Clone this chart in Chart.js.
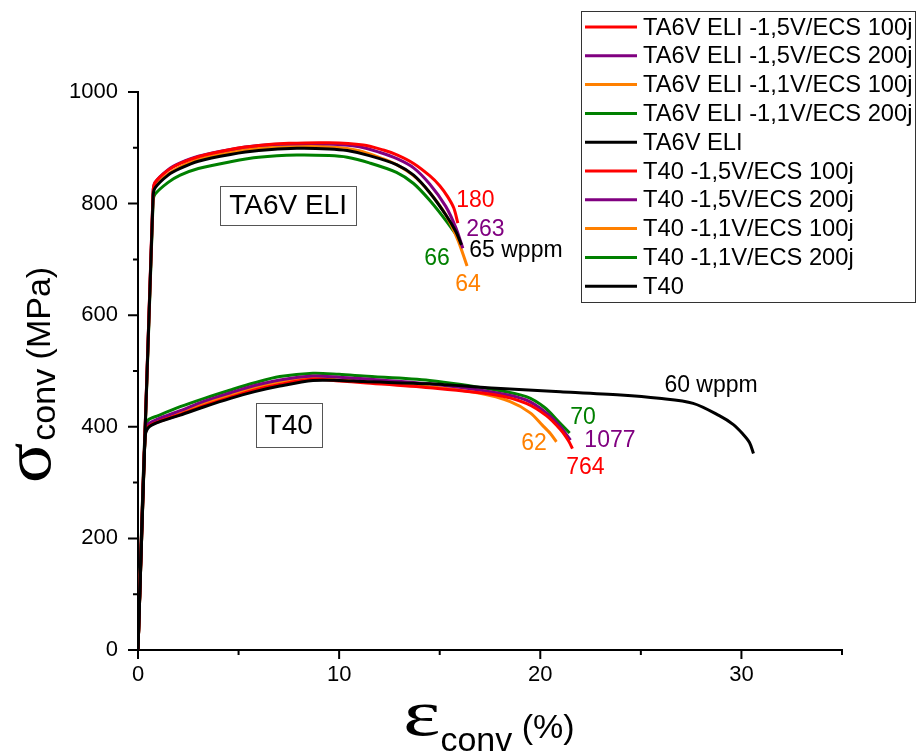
<!DOCTYPE html>
<html lang="fr">
<head>
    <meta charset="UTF-8">
    <title>Essais de traction TA6V ELI / T40</title>
    <script src="https://cdn.jsdelivr.net/npm/chart.js"></script>
    <style>
        body {
            margin: 0;
            background: #fff;
        }
        canvas {
            display: block;
        }
    </style>
</head>
<body>
    <canvas id="myChart" width="917" height="755"></canvas>

    <script>
        // axis ticks
        const xMajor = [0, 10, 20, 30];
        const xMinor = [5, 15, 25, 35];
        const yMajor = [0, 200, 400, 600, 800, 1000];
        const yMinor = [100, 300, 500, 700, 900];

        const seriesNames = [
            'TA6V ELI -1,5V/ECS 100j', 'TA6V ELI -1,5V/ECS 200j', 'TA6V ELI -1,1V/ECS 100j',
            'TA6V ELI -1,1V/ECS 200j', 'TA6V ELI', 'T40 -1,5V/ECS 100j', 'T40 -1,5V/ECS 200j',
            'T40 -1,1V/ECS 100j', 'T40 -1,1V/ECS 200j', 'T40'
        ];
        const seriesColors = ['#ff0000', '#800080', '#ff8000', '#008000', '#000000',
                              '#ff0000', '#800080', '#ff8000', '#008000', '#000000'];

        // TA6V ELI curves (strain %, stress MPa)
        const ta6v15_100x = [0, 0.75, 0.85, 1.5, 2.1, 3, 4.6, 6, 7.5, 9.5, 11.2, 12.2, 12.9, 13.7, 14.5, 15.0, 15.4, 15.7, 15.9];
        const ta6v15_100y = [0, 820, 838, 860, 872, 884, 897, 904, 908, 909, 905, 896, 887, 872, 850, 832, 812, 792, 765];
        const ta6v15_200x = [0, 0.75, 0.85, 1.5, 2.1, 3, 4.6, 6, 7.5, 9.5, 11, 12, 12.9, 13.7, 14.5, 15.3, 15.8, 16.15];
        const ta6v15_200y = [0, 820, 838, 861, 873, 885, 897, 904, 907, 907, 902, 892, 880, 864, 835, 795, 757, 720];
        const ta6v11_100x = [0, 0.75, 0.85, 1.5, 2.1, 3, 4.6, 6, 7.5, 9.5, 11, 12.2, 12.9, 13.7, 14.5, 15.3, 15.9, 16.36];
        const ta6v11_100y = [0, 815, 832, 853, 866, 879, 892, 899, 903, 902, 895, 880, 869, 850, 820, 780, 735, 688];
        const ta6v11_200x = [0, 0.75, 0.85, 1.5, 2.1, 3, 4.6, 6, 7.9, 9.5, 10.4, 11.5, 12.85, 13.7, 14.5, 15.3, 16.0];
        const ta6v11_200y = [0, 805, 817, 838, 851, 863, 875, 883, 887, 886, 883, 873, 856, 836, 806, 770, 735];
        const ta6vRefx = [0, 0.75, 0.85, 1.5, 2.1, 3, 4.6, 6, 7.9, 9.5, 10.4, 11.5, 12.85, 13.7, 14.5, 15.3, 15.8, 16.08];
        const ta6vRefy = [0, 812, 828, 851, 863, 876, 888, 895, 899, 898, 895, 886, 870, 851, 820, 780, 750, 726];

        // T40 curves
        const t4015_100x = [0, 0.35, 0.5, 1, 2.1, 3.3, 4.6, 5.8, 7.05, 8.7, 10, 11.2, 14.5, 17.8, 19.3, 20.3, 21, 21.4, 21.6];
        const t4015_100y = [0, 382, 400, 409, 422, 438, 453, 466, 476, 485, 482, 479, 470, 457, 442, 420, 395, 375, 361];
        const t4015_200x = [0, 0.35, 0.5, 1, 2.1, 3.3, 4.6, 5.8, 7.05, 8.7, 10, 11.2, 14.5, 17.8, 19.3, 20.3, 21, 21.5];
        const t4015_200y = [0, 390, 405, 414, 429, 446, 461, 474, 484, 491, 489, 486, 477, 461, 448, 425, 400, 376];
        const t4011_100x = [0, 0.35, 0.5, 1, 2.1, 3.3, 4.6, 5.8, 7.05, 8.7, 10, 11.2, 14.5, 17, 18.5, 19.5, 20.1, 20.5, 20.8];
        const t4011_100y = [0, 385, 402, 411, 425, 442, 457, 470, 480, 487, 484, 481, 472, 460, 445, 425, 403, 388, 373];
        const t4011_200x = [0, 0.35, 0.5, 1, 2.1, 3.3, 4.6, 5.8, 7.05, 8.7, 10, 11.2, 14.5, 17.8, 19.3, 20.2, 21, 21.46];
        const t4011_200y = [0, 395, 412, 420, 436, 451, 466, 479, 490, 496, 494, 491, 483, 466, 454, 435, 406, 389];
        const t40Refx = [0, 0.35, 0.5, 1, 2.1, 3.3, 4.6, 5.8, 7.05, 8.7, 10, 11.2, 14.5, 17.8, 21, 24, 25.9, 27.6, 28.9, 29.6, 30.05, 30.4, 30.6];
        const t40Refy = [0, 380, 398, 408, 421, 436, 451, 463, 473, 483, 483, 481, 477, 469, 463, 457, 451, 442, 420, 404, 388, 372, 352];

        const seriesX = [ta6v15_100x, ta6v15_200x, ta6v11_100x, ta6v11_200x, ta6vRefx,
                         t4015_100x, t4015_200x, t4011_100x, t4011_200x, t40Refx];
        const seriesY = [ta6v15_100y, ta6v15_200y, ta6v11_100y, ta6v11_200y, ta6vRefy,
                         t4015_100y, t4015_200y, t4011_100y, t4011_200y, t40Refy];

        // hydrogen content labels, placed in data units
        const noteText = ['180', '263', '65 wppm', '66', '64', '60 wppm', '70', '1077', '62', '764'];
        const noteColor = ['#ff0000', '#800080', '#000000', '#008000', '#ff8000',
                           '#000000', '#008000', '#800080', '#ff8000', '#ff0000'];
        const noteX = [15.82, 16.32, 16.47, 14.23, 15.77, 26.17, 21.49, 22.19, 19.05, 21.29];
        const noteY = [805, 754, 715, 701, 654, 473, 416, 375, 369, 326];

        const boxText = ['TA6V ELI', 'T40'];
        const boxX = [7.46, 7.49];
        const boxY = [797, 403];

        const FONT = "'Liberation Sans', Arial, sans-serif";

        // draws a glyph stretched horizontally, returns its drawn width
        function wideText(ctx, t, x, y, sx) {
            ctx.save();
            ctx.translate(x, y);
            ctx.scale(sx, 1);
            ctx.fillText(t, 0, 0);
            ctx.restore();
            return ctx.measureText(t).width * sx;
        }

        const paperPlugin = {
            id: 'paper',
            afterDraw(chart) {
                const ctx = chart.ctx;
                const xs = chart.scales.x;
                const ys = chart.scales.y;
                const area = chart.chartArea;
                ctx.save();

                // tick marks, outside
                ctx.strokeStyle = '#000';
                ctx.lineWidth = 2;
                ctx.beginPath();
                xMajor.forEach(v => { const p = xs.getPixelForValue(v); ctx.moveTo(p, area.bottom); ctx.lineTo(p, area.bottom + 9); });
                xMinor.forEach(v => { const p = xs.getPixelForValue(v); ctx.moveTo(p, area.bottom); ctx.lineTo(p, area.bottom + 5); });
                yMajor.forEach(v => { const p = ys.getPixelForValue(v); ctx.moveTo(area.left - 10, p); ctx.lineTo(area.left, p); });
                yMinor.forEach(v => { const p = ys.getPixelForValue(v); ctx.moveTo(area.left - 5, p); ctx.lineTo(area.left, p); });
                ctx.stroke();

                // curve labels
                ctx.font = '23px ' + FONT;
                ctx.textBaseline = 'middle';
                ctx.textAlign = 'left';
                noteText.forEach((t, i) => {
                    ctx.fillStyle = noteColor[i];
                    ctx.fillText(t, xs.getPixelForValue(noteX[i]), ys.getPixelForValue(noteY[i]));
                });

                // boxed material names
                ctx.font = '28px ' + FONT;
                ctx.textAlign = 'center';
                boxText.forEach((t, i) => {
                    const cx = xs.getPixelForValue(boxX[i]);
                    const cy = ys.getPixelForValue(boxY[i]);
                    const w = ctx.measureText(t).width + 18;
                    const h = i === 0 ? 39 : 44;
                    ctx.fillStyle = '#fff';
                    ctx.fillRect(cx - w / 2, cy - h / 2, w, h);
                    ctx.strokeStyle = '#555';
                    ctx.lineWidth = 1;
                    ctx.strokeRect(Math.round(cx - w / 2) + 0.5, Math.round(cy - h / 2) + 0.5, Math.round(w), h);
                    ctx.fillStyle = '#000';
                    ctx.fillText(t, cx, cy + 1);
                });

                // legend box
                ctx.strokeStyle = '#333';
                ctx.lineWidth = 1;
                ctx.strokeRect(581.5, 11.5, 334, 291);
                ctx.font = '23.7px ' + FONT;
                ctx.textAlign = 'left';
                seriesNames.forEach((name, i) => {
                    const yy = 27 + i * 28.8;
                    ctx.strokeStyle = seriesColors[i];
                    ctx.lineWidth = 3;
                    ctx.beginPath();
                    ctx.moveTo(585, yy);
                    ctx.lineTo(637, yy);
                    ctx.stroke();
                    ctx.fillStyle = '#000';
                    ctx.fillText(name, 643, yy + 1);
                });

                // axis titles with subscripts
                ctx.fillStyle = '#000';
                ctx.textBaseline = 'alphabetic';
                ctx.font = "66px 'Liberation Serif', serif";
                let w = wideText(ctx, '\u03b5', 403, 735, 1.35);
                ctx.font = '34px ' + FONT;
                ctx.fillText('conv', 403 + w, 751);
                let w2 = ctx.measureText('conv ').width;
                ctx.fillText('(%)', 403 + w + w2, 738);

                ctx.translate(50, 483);
                ctx.rotate(-Math.PI / 2);
                ctx.font = "68px 'Liberation Serif', serif";
                w = wideText(ctx, '\u03c3', 0, 0, 1.1);
                ctx.font = '34px ' + FONT;
                ctx.fillText('conv', w + 2, 5);
                w2 = ctx.measureText('conv ').width;
                ctx.fillText('(MPa)', w + 2 + w2, 0);

                ctx.restore();
            }
        };

        const ctx = document.getElementById('myChart').getContext('2d');
        const myChart = new Chart(ctx, {
            type: 'line',
            data: {
                datasets: seriesNames.map((name, i) => ({
                    label: name,
                    data: seriesX[i].map((x, j) => ({ x: x, y: seriesY[i][j] })),
                    borderColor: seriesColors[i],
                    borderWidth: 3,
                    pointRadius: 0,
                    fill: false,
                    tension: 0.3,
                    order: i === 4 || i === 9 ? 0 : 1
                }))
            },
            options: {
                responsive: false,
                animation: false,
                layout: {
                    padding: { top: 92, right: 75, left: 0, bottom: 0 }
                },
                plugins: {
                    legend: { display: false },
                    tooltip: { enabled: false }
                },
                scales: {
                    x: {
                        type: 'linear',
                        min: 0,
                        max: 35,
                        grid: { display: false, drawTicks: false },
                        border: { display: true, color: '#000', width: 2 },
                        ticks: {
                            stepSize: 10,
                            padding: 12,
                            color: '#000',
                            font: { family: FONT, size: 22 },
                            callback: v => (v % 10 === 0 ? String(v) : '')
                        },
                        afterFit: s => { s.height = 105; }
                    },
                    y: {
                        min: 0,
                        max: 1000,
                        grid: { display: false, drawTicks: false },
                        border: { display: true, color: '#000', width: 2 },
                        ticks: {
                            stepSize: 200,
                            padding: 20,
                            color: '#000',
                            font: { family: FONT, size: 22 },
                            callback: v => String(v)
                        },
                        afterFit: s => { s.width = 138; }
                    }
                }
            },
            plugins: [paperPlugin]
        });
    </script>
</body>
</html>
